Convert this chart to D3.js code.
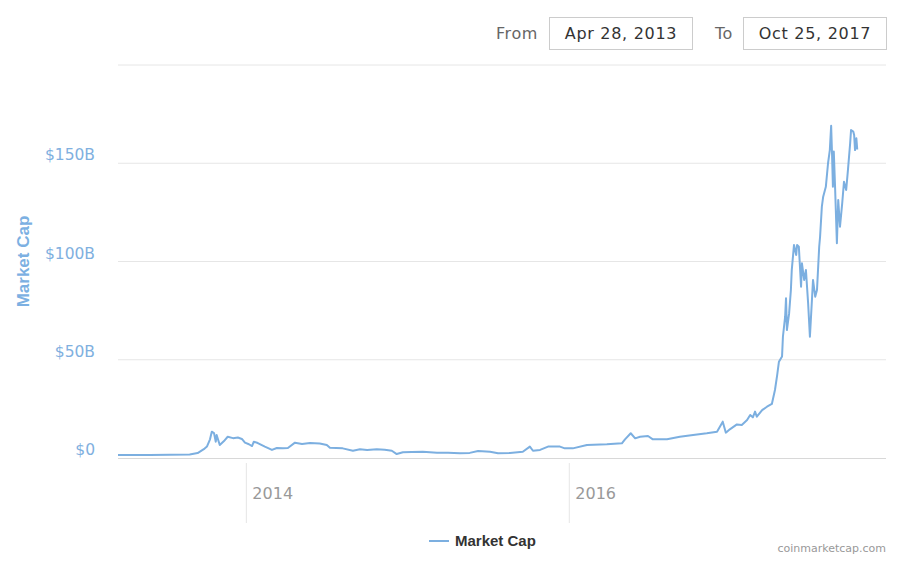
<!DOCTYPE html>
<html>
<head>
<meta charset="utf-8">
<script src="https://cdn.jsdelivr.net/npm/d3@7"></script>
<style>
  body { margin: 0; background: #fff; }
  svg { display: block; }
</style>
</head>
<body>
<script>
// market cap series, values in billions of USD
var dates = [
  "2013-03-18","2013-05-29","2013-08-27","2013-09-14","2013-09-28","2013-10-05","2013-10-12","2013-10-16",
  "2013-10-21","2013-10-25","2013-10-27","2013-11-03","2013-11-12","2013-11-21","2013-12-03","2013-12-14",
  "2013-12-23","2013-12-30","2014-01-08","2014-01-15","2014-01-19","2014-01-28","2014-02-13","2014-03-01",
  "2014-03-12","2014-03-26","2014-04-06","2014-04-22","2014-05-08","2014-05-26","2014-06-17","2014-07-03",
  "2014-07-10","2014-08-08","2014-08-31","2014-09-16","2014-10-02","2014-10-24","2014-11-11","2014-11-27",
  "2014-12-08","2014-12-22","2015-01-11","2015-02-05","2015-03-09","2015-04-03","2015-04-30","2015-05-22",
  "2015-06-10","2015-07-07","2015-07-25","2015-08-21","2015-09-19","2015-10-05","2015-10-12","2015-10-28",
  "2015-11-15","2015-12-12","2015-12-23","2016-01-10","2016-02-11","2016-03-27","2016-04-30","2016-05-07",
  "2016-05-20","2016-05-30","2016-06-10","2016-06-28","2016-07-09","2016-08-10","2016-09-08","2016-10-08",
  "2016-11-08","2016-12-01","2016-12-14","2016-12-21","2016-12-30","2017-01-15","2017-01-26","2017-02-07",
  "2017-02-14","2017-02-20","2017-02-25","2017-03-01","2017-03-13","2017-03-24","2017-04-04","2017-04-11",
  "2017-04-16","2017-04-20","2017-04-27","2017-04-29","2017-05-04","2017-05-06","2017-05-08","2017-05-13",
  "2017-05-17","2017-05-19","2017-05-24","2017-05-29","2017-05-31","2017-06-04","2017-06-09","2017-06-11",
  "2017-06-16","2017-06-20","2017-06-25","2017-06-29","2017-07-04","2017-07-06","2017-07-11","2017-07-15",
  "2017-07-20","2017-07-22","2017-07-26","2017-07-29","2017-08-04","2017-08-09","2017-08-13","2017-08-16",
  "2017-08-18","2017-08-20","2017-08-22","2017-08-25","2017-08-29","2017-09-01","2017-09-05","2017-09-10",
  "2017-09-14","2017-09-19","2017-09-23","2017-09-28","2017-09-30","2017-10-05","2017-10-07","2017-10-09",
  "2017-10-12","2017-10-14"
];
var marketCap = [
  1.5, 1.5, 1.8, 2.5, 4.5, 5.8, 9.5, 13.4,
  12.7, 8.3, 11.7, 6.6, 8.5, 10.8, 10.1, 10.4,
  9.7, 7.8, 7.0, 6.1, 8.3, 7.6, 5.8, 4.1,
  5.1, 4.9, 5.1, 7.8, 7.1, 7.6, 7.4, 6.6,
  5.2, 4.9, 3.7, 4.4, 4.1, 4.4, 4.2, 3.7,
  2.0, 2.9, 3.0, 3.2, 2.7, 2.7, 2.4, 2.6,
  3.6, 3.2, 2.4, 2.6, 3.2, 5.8, 3.7, 4.1,
  5.8, 5.8, 4.9, 4.9, 6.6, 7.0, 7.5, 9.5,
  12.6, 10.0, 10.8, 11.2, 9.5, 9.5, 10.8, 11.7,
  12.6, 13.4, 18.5, 12.9, 14.6, 17.1, 16.8, 19.3,
  21.9, 20.7, 23.6, 21.0, 24.4, 26.1, 27.5, 34.6,
  42.2, 49.0, 51.6, 61.7, 71.9, 81.3, 65.1, 73.6,
  85.5, 95.7, 108.4, 103.3, 108.4, 107.5, 87.2, 99.1,
  90.6, 95.7, 78.7, 61.7, 82.1, 90.6, 82.1, 85.5,
  107.5, 112.6, 127.9, 133.0, 138.0, 150.0, 156.7, 169.1,
  155.0, 138.0, 156.0, 137.0, 109.3, 131.3, 117.7, 129.6,
  140.6, 136.4, 146.6, 160.2, 166.9, 166.1, 164.4, 156.7,
  162.7, 157.0
];

var yTicks = [0, 50, 100, 150, 200];
var yearTicks = ["2014-01-01", "2016-01-01"];
var xDomain = ["2013-03-18", "2017-12-18"];
var fromLabel = "Apr 28, 2013", toLabel = "Oct 25, 2017";
var seriesName = "Market Cap";

var W = 900, H = 564;
var margin = {top: 65, right: 14, bottom: 106, left: 118};
var parse = d3.utcParse("%Y-%m-%d");

var data = dates.map(function(d, i) { return {date: parse(d), value: marketCap[i]}; });

var svg = d3.select("body").append("svg")
    .attr("width", W)
    .attr("height", H)
    .style("font-family", "'DejaVu Sans', sans-serif");

var x = d3.scaleUtc().domain(xDomain.map(parse)).range([margin.left, W - margin.right]);
var y = d3.scaleLinear().domain([0, 200]).range([H - margin.bottom, margin.top]);

// horizontal grid
svg.append("g").selectAll("line")
  .data(yTicks.slice(1))
  .enter().append("line")
    .attr("x1", margin.left).attr("x2", W - margin.right)
    .attr("y1", function(d) { return y(d); })
    .attr("y2", function(d) { return y(d); })
    .attr("stroke", "#e6e6e6");

// y labels (last one hidden)
svg.append("g").selectAll("text")
  .data(yTicks.slice(0, -1))
  .enter().append("text")
    .attr("x", 95)
    .attr("y", function(d) { return y(d) - 3; })
    .attr("text-anchor", "end")
    .style("font-size", "15.5px")
    .style("fill", "#7fb0e0")
    .text(function(d) { return d === 0 ? "$0" : "$" + d + "B"; });

svg.append("text")
    .attr("transform", "translate(29," + ((y(0) + y(200)) / 2) + ") rotate(-90)")
    .attr("text-anchor", "middle")
    .style("font-family", "'Liberation Sans', Arial, sans-serif")
    .style("font-size", "17px")
    .style("font-weight", "bold")
    .style("fill", "#7cb0e2")
    .text(seriesName);

// x axis
var xAxis = svg.append("g")
    .attr("transform", "translate(0," + y(0) + ")")
    .call(d3.axisBottom(x).tickValues(yearTicks.map(parse)).tickSize(0).tickFormat(d3.utcFormat("%Y")));
xAxis.select(".domain").remove();
xAxis.selectAll(".tick line")
    .attr("y1", 5).attr("y2", 65)
    .attr("stroke", "#e6e6e6");
xAxis.selectAll(".tick text")
    .attr("x", 6).attr("y", 41).attr("dy", 0)
    .attr("text-anchor", "start")
    .style("font-family", "'DejaVu Sans', sans-serif")
    .style("font-size", "16px")
    .style("fill", "#999");

svg.append("line")
    .attr("x1", margin.left).attr("x2", W - margin.right)
    .attr("y1", y(0) + 0.5).attr("y2", y(0) + 0.5)
    .attr("stroke", "#d8d8d8");

// series
var line = d3.line()
    .x(function(d) { return x(d.date); })
    .y(function(d) { return y(d.value); });

svg.append("path")
    .datum(data)
    .attr("d", line)
    .attr("fill", "none")
    .attr("stroke", "#7cafe0")
    .attr("stroke-width", 2)
    .attr("stroke-linejoin", "round");

// range selector boxes
function box(x0, label) {
  svg.append("rect")
      .attr("x", x0 + 0.5).attr("y", 17.5)
      .attr("width", 143).attr("height", 32)
      .attr("fill", "#fff").attr("stroke", "#cccccc");
  svg.append("text")
      .attr("x", x0 + 72).attr("y", 39)
      .attr("text-anchor", "middle")
      .style("font-size", "16px")
      .style("letter-spacing", "0.7px")
      .style("fill", "#333")
      .text(label);
}
svg.append("text").attr("x", 538).attr("y", 39).attr("text-anchor", "end")
    .style("font-size", "16px").style("letter-spacing", "0.6px").style("fill", "#666").text("From");
box(549, fromLabel);
svg.append("text").attr("x", 733).attr("y", 39).attr("text-anchor", "end")
    .style("font-size", "16px").style("letter-spacing", "0.6px").style("fill", "#666").text("To");
box(743, toLabel);

// legend
svg.append("line")
    .attr("x1", 429).attr("x2", 449).attr("y1", 541).attr("y2", 541)
    .attr("stroke", "#7cafe0").attr("stroke-width", 2);
svg.append("text")
    .attr("x", 455).attr("y", 546)
    .style("font-family", "'Liberation Sans', Arial, sans-serif")
    .style("font-size", "15px").style("font-weight", "bold")
    .style("fill", "#333")
    .text(seriesName);

svg.append("text")
    .attr("x", 886).attr("y", 552)
    .attr("text-anchor", "end")
    .style("font-family", "'DejaVu Sans', sans-serif")
    .style("font-size", "11px")
    .style("fill", "#999")
    .text("coinmarketcap.com");
</script>
</body>
</html>
